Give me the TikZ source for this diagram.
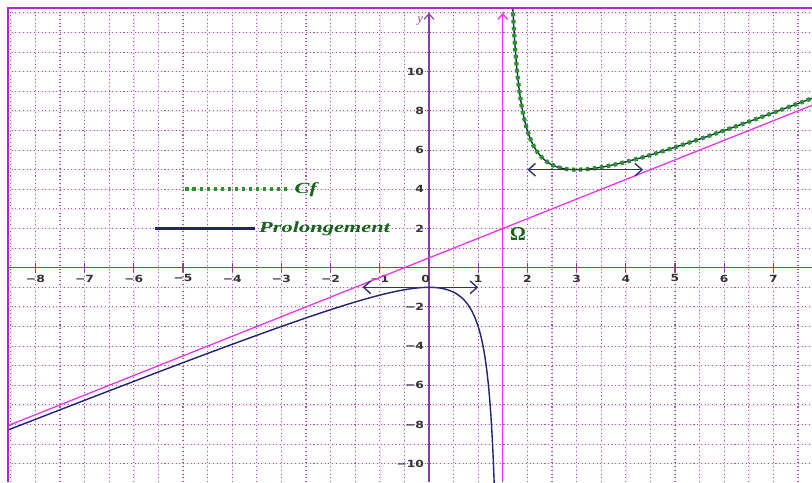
\documentclass[tikz,border=0pt]{standalone}
\usepackage{amsmath}
\usepackage{fontspec}
\setsansfont{DejaVu Sans}
\newfontfamily\legfont{Liberation Serif}
\usetikzlibrary{arrows.meta,positioning}

\definecolor{gridpurple}{RGB}{160,95,160}
\definecolor{gridpink}{RGB}{248,226,248}
\definecolor{axispurple}{RGB}{140,60,170}
\definecolor{framevio}{RGB}{170,40,210}
\definecolor{asymag}{RGB}{235,50,235}
\definecolor{cfgreen}{RGB}{40,150,40}
\definecolor{txtgreen}{RGB}{20,100,30}
\definecolor{prolnavy}{RGB}{35,35,115}

\tikzset{
  gridfine/.style = {draw=gridpink, line width=0.4pt},
  griddot/.style  = {draw=gridpurple, line width=0.75pt, dash pattern=on 0.75pt off 1.9pt},
  axisline/.style = {draw=axispurple, line width=0.8pt},
  asym/.style     = {draw=asymag, line width=0.9pt},
  prolong/.style  = {draw=prolnavy, line width=1pt},
  cfcurve/.style  = {draw=cfgreen, line width=3pt, dash pattern=on 2.4pt off 2.6pt},
  tang/.style     = {draw=prolnavy!85!gray, line width=1pt,
                     {Straight Barb[length=5pt,width=9pt]}-{Straight Barb[length=5pt,width=9pt]}},
  ticklbl/.style  = {font=\sffamily\bfseries\fontsize{7}{8}\selectfont, text=black!80,
                     xscale=1.25, inner sep=1pt},
  leglbl/.style   = {font=\legfont\bfseries\itshape\fontsize{11}{12}\selectfont, text=txtgreen,
                     xscale=1.45, inner sep=1pt},
}

\begin{document}
\begin{tikzpicture}[x=1.23cm, y=0.49cm]

\useasboundingbox (-8.7195,-10.934) rectangle (7.7846,13.658);
\fill[white] (-8.7195,-10.934) rectangle (7.7846,13.658);

%% grid
\foreach \gx in {-8.5,-8,...,7.5} {
  \draw[gridfine] (\gx,-10.934) -- (\gx,13.25);
  \draw[griddot]  (\gx,-10.934) -- (\gx,13.25);
}
\foreach \gy in {-10,...,13} {
  \draw[gridfine] (-8.557,\gy) -- (7.7846,\gy);
  \draw[griddot]  (-8.557,\gy) -- (7.7846,\gy);
}

%% axes
\draw[axisline] (-8.557,0) -- (7.7846,0);
\foreach \t in {-8,...,7}
  \draw[axisline] (\t,-0.22) -- (\t,0.22);
\foreach \t in {-10,...,12}
  \draw[axisline] (-0.05,\t) -- (0.05,\t);
\draw[axisline, -{Straight Barb[length=4pt,width=7pt]}] (0,-10.934) -- (0,13.0);
\node[font=\legfont\itshape\small, text=axispurple] (ylbl) at (-0.18,12.6) {y};

\foreach \t in {1,...,8}
  \node[ticklbl] (xn\t) at (-\t,-0.55) {−\t};
\node[ticklbl] (x0) at (-0.07,-0.55) {0};
\foreach \t in {1,...,7}
  \node[ticklbl] (xp\t) at (\t,-0.55) {\t};
\foreach \t in {2,4,...,10} {
  \node[ticklbl, anchor=east] (yp\t) at (-0.06,\t) {\t};
  \node[ticklbl, anchor=east] (yn\t) at (-0.06,-\t) {−\t};
}

%% asymptotes
\draw[asym, -{Straight Barb[length=4pt,width=7pt]}] (1.5,-10.934) -- (1.5,13.0);
\draw[asym] (-8.557,-8.057) -- (7.7846,8.2846);
\coordinate (omega) at (1.5,2);
\node[font=\legfont\bfseries\fontsize{14}{15}\selectfont, text=txtgreen, inner sep=0pt]
  (omega_lbl) at (1.81,1.72) {Ω};

%% curves
\begin{scope}
  \clip (-8.557,-10.934) rectangle (7.7846,13.25);
  \draw[prolong, domain=-8.6:1.0, samples=150] plot (\x,{\x+0.5+2.25/(\x-1.5)});
  \draw[prolong, domain=1.0:1.34, samples=80] plot (\x,{\x+0.5+2.25/(\x-1.5)});
  \draw[prolong, domain=1.66:2.2, samples=80] plot (\x,{\x+0.5+2.25/(\x-1.5)});
  \draw[prolong, domain=2.2:7.8, samples=120] plot (\x,{\x+0.5+2.25/(\x-1.5)});
  \draw[cfcurve, domain=1.66:2.2, samples=80] plot (\x,{\x+0.5+2.25/(\x-1.5)})
    -- plot[domain=2.2:7.8, samples=120] (\x,{\x+0.5+2.25/(\x-1.5)});
\end{scope}

%% tangents
\coordinate (tl_a) at (-1.35,-1);
\coordinate (tl_b) at (1.0,-1);
\coordinate (tu_a) at (2.0,5);
\coordinate (tu_b) at (4.35,5);
\draw[tang] (tl_a) -- (tl_b);
\draw[tang] (tu_a) -- (tu_b);

%% legend
\coordinate (cf_a) at (-4.95,4);
\coordinate (cf_b) at (-2.83,4);
\draw[cfcurve] (cf_a) -- (cf_b);
\node[leglbl, anchor=west] (cf_lbl) at (-2.78,4) {Cf};
\coordinate (pr_a) at (-5.57,2);
\coordinate (pr_b) at (-3.54,2);
\draw[prolong, line width=1.8pt] (pr_a) -- (pr_b);
\node[leglbl, anchor=west] (pr_lbl) at (-3.5,2) {Prolongement};

%% frame
\draw[draw=framevio, line width=1.2pt] (-8.557,-10.934) -- (-8.557,13.25) -- (7.7846,13.25);

\end{tikzpicture}
\end{document}
